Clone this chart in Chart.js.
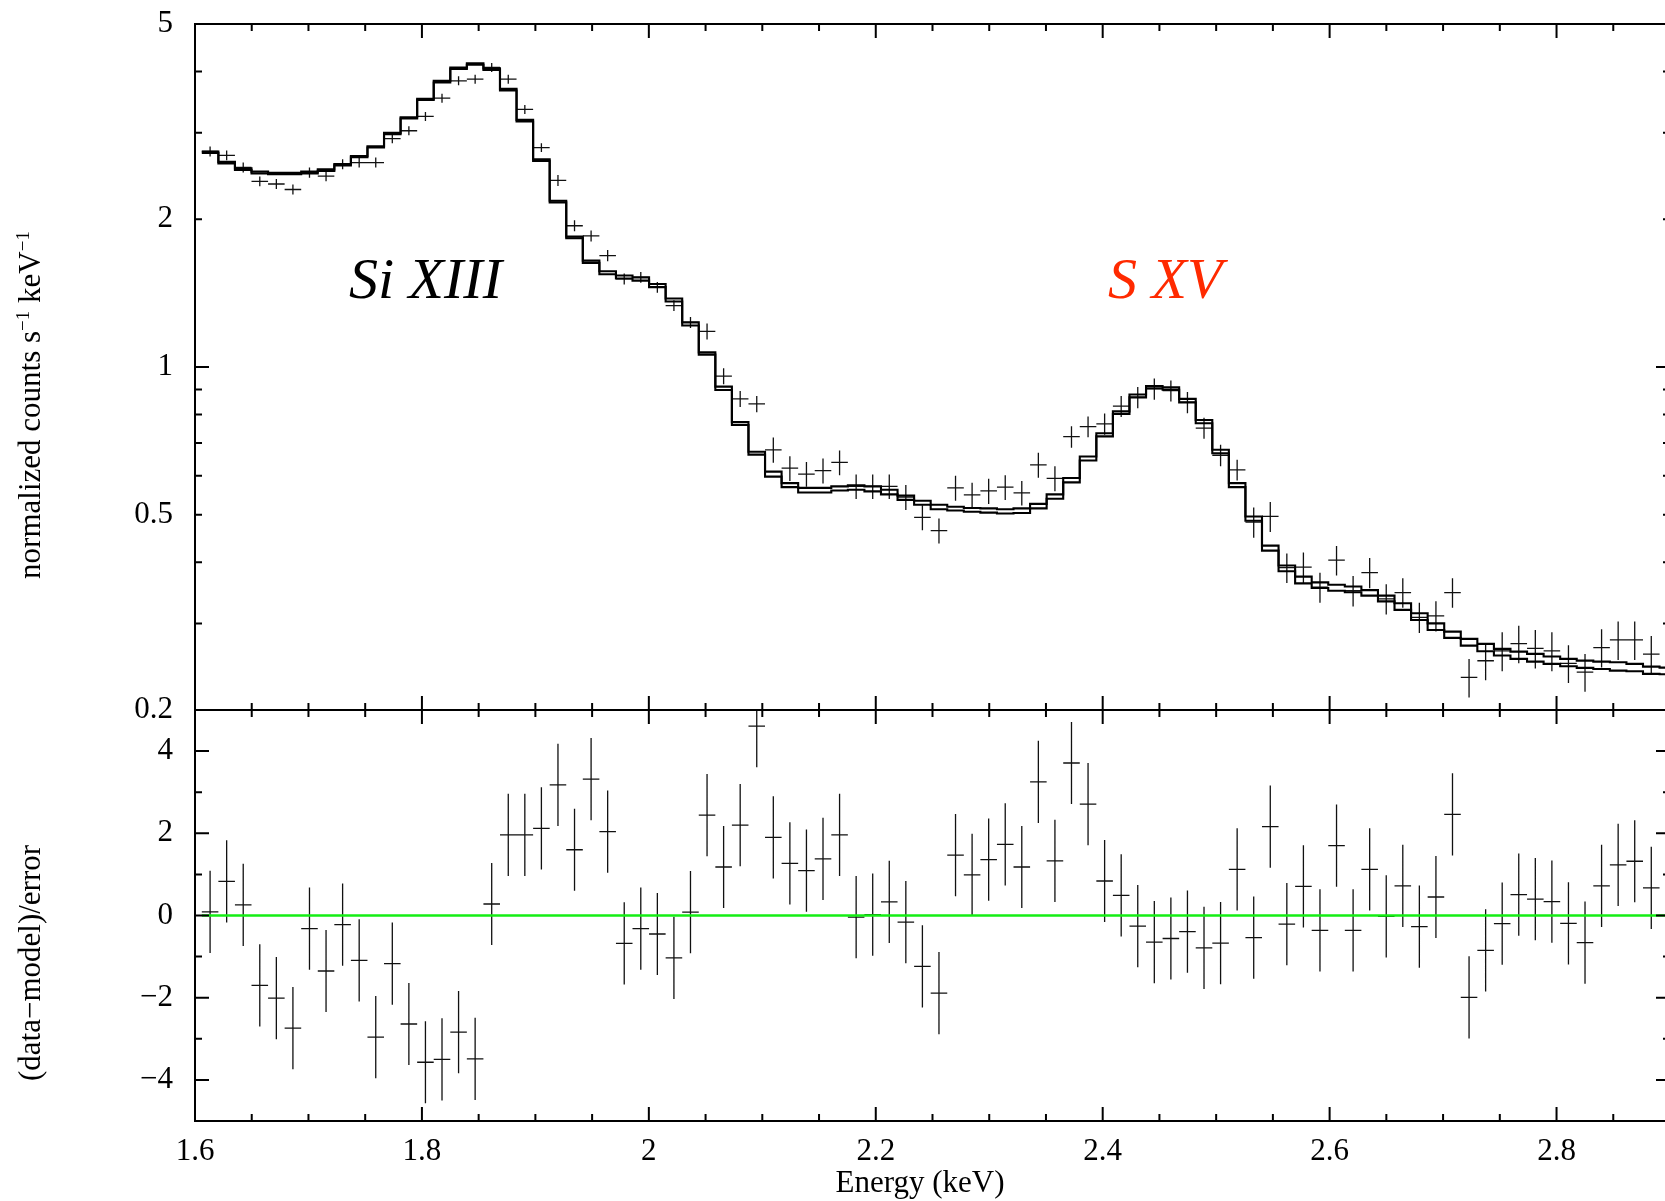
<!DOCTYPE html>
<html>
<head>
<meta charset="utf-8">
<script src="https://cdn.jsdelivr.net/npm/chart.js@4.4.1/dist/chart.umd.min.js"></script>
<style>
  html, body { margin: 0; padding: 0; background: #fff; overflow: hidden; }
  #wrap { position: relative; width: 1665px; height: 1201px; overflow: hidden; background: #fff; }
  canvas { position: absolute; left: 0; }
  #spec { top: 0; }
  #resid { top: 700px; }
</style>
</head>
<body>
<div id="wrap">
  <canvas id="spec" width="1680" height="720"></canvas>
  <canvas id="resid" width="1680" height="501"></canvas>
</div>
<script>
// ACIS channel centres (keV), one 14.6 eV channel per bin
const energies = [
  1.6133, 1.6279, 1.6425, 1.6571, 1.6717, 1.6863, 1.7009, 1.7155, 1.7301, 1.7447,
  1.7593, 1.7739, 1.7885, 1.8031, 1.8177, 1.8323, 1.8469, 1.8615, 1.8761, 1.8907,
  1.9053, 1.9199, 1.9345, 1.9491, 1.9637, 1.9783, 1.9929, 2.0075, 2.0221, 2.0367,
  2.0513, 2.0659, 2.0805, 2.0951, 2.1097, 2.1243, 2.1389, 2.1535, 2.1681, 2.1827,
  2.1973, 2.2119, 2.2265, 2.2411, 2.2557, 2.2703, 2.2849, 2.2995, 2.3141, 2.3287,
  2.3433, 2.3579, 2.3725, 2.3871, 2.4017, 2.4163, 2.4309, 2.4455, 2.4601, 2.4747,
  2.4893, 2.5039, 2.5185, 2.5331, 2.5477, 2.5623, 2.5769, 2.5915, 2.6061, 2.6207,
  2.6353, 2.6499, 2.6645, 2.6791, 2.6937, 2.7083, 2.7229, 2.7375, 2.7521, 2.7667,
  2.7813, 2.7959, 2.8105, 2.8251, 2.8397, 2.8543, 2.8689, 2.8835, 2.8981
];
const halfBin = 0.0073;

// normalized counts s^-1 keV^-1
const counts = [
  2.75, 2.70, 2.55, 2.39, 2.36, 2.30, 2.49, 2.45, 2.59, 2.61,
  2.61, 2.92, 3.03, 3.24, 3.53, 3.83, 3.86, 4.08, 3.86, 3.35,
  2.80, 2.40, 1.94, 1.85, 1.687, 1.512, 1.523, 1.453, 1.334, 1.233,
  1.182, 0.958, 0.861, 0.841, 0.678, 0.622, 0.605, 0.615, 0.639, 0.571,
  0.571, 0.571, 0.543, 0.494, 0.464, 0.567, 0.549, 0.559, 0.569, 0.554,
  0.632, 0.593, 0.721, 0.756, 0.766, 0.832, 0.867, 0.903, 0.895, 0.847,
  0.751, 0.661, 0.617, 0.483, 0.496, 0.390, 0.391, 0.356, 0.404, 0.350,
  0.381, 0.337, 0.347, 0.309, 0.311, 0.347, 0.233, 0.252, 0.264, 0.273,
  0.267, 0.264, 0.249, 0.239, 0.268, 0.278, 0.278, 0.260
];
const countErr = [
  0.065, 0.063, 0.060, 0.056, 0.055, 0.054, 0.059, 0.058, 0.061, 0.061,
  0.061, 0.062, 0.064, 0.068, 0.074, 0.081, 0.081, 0.086, 0.081, 0.071,
  0.059, 0.062, 0.050, 0.048, 0.044, 0.039, 0.039, 0.037, 0.034, 0.032,
  0.044, 0.036, 0.032, 0.032, 0.040, 0.036, 0.035, 0.036, 0.037, 0.033,
  0.033, 0.033, 0.032, 0.029, 0.027, 0.033, 0.032, 0.033, 0.033, 0.032,
  0.037, 0.035, 0.036, 0.037, 0.038, 0.041, 0.043, 0.045, 0.044, 0.042,
  0.037, 0.033, 0.030, 0.034, 0.035, 0.027, 0.028, 0.025, 0.028, 0.025,
  0.027, 0.024, 0.024, 0.022, 0.022, 0.024, 0.021, 0.022, 0.024, 0.024,
  0.024, 0.024, 0.022, 0.021, 0.024, 0.025, 0.025, 0.023
];

// folded model, two fits
const modelHi = [
  2.748, 2.618, 2.540, 2.501, 2.486, 2.486, 2.501, 2.528, 2.593, 2.692,
  2.817, 3.000, 3.228, 3.520, 3.828, 4.074, 4.158, 4.061, 3.687, 3.189,
  2.650, 2.181, 1.844, 1.647, 1.567, 1.536, 1.523, 1.476, 1.379, 1.233,
  1.071, 0.912, 0.772, 0.672, 0.612, 0.580, 0.567, 0.567, 0.571, 0.574,
  0.571, 0.562, 0.547, 0.534, 0.524, 0.519, 0.516, 0.515, 0.513, 0.515,
  0.526, 0.550, 0.594, 0.657, 0.733, 0.812, 0.879, 0.915, 0.909, 0.861,
  0.780, 0.678, 0.580, 0.496, 0.4325, 0.394, 0.374, 0.364, 0.360, 0.357,
  0.351, 0.342, 0.330, 0.315, 0.3003, 0.2889, 0.2792, 0.2727, 0.2664, 0.2630,
  0.2602, 0.2570, 0.2542, 0.2522, 0.2510, 0.2502, 0.2483, 0.2452, 0.2440
];
const modelLo = [
  2.73, 2.60, 2.52, 2.48, 2.47, 2.47, 2.48, 2.51, 2.575, 2.675,
  2.80, 2.98, 3.21, 3.50, 3.80, 4.05, 4.13, 4.03, 3.66, 3.165,
  2.63, 2.165, 1.83, 1.63, 1.545, 1.515, 1.50, 1.455, 1.36, 1.215,
  1.060, 0.898, 0.762, 0.663, 0.598, 0.569, 0.555, 0.555, 0.560, 0.562,
  0.558, 0.550, 0.536, 0.524, 0.513, 0.510, 0.507, 0.505, 0.503, 0.504,
  0.515, 0.539, 0.582, 0.645, 0.722, 0.802, 0.867, 0.905, 0.899, 0.847,
  0.768, 0.667, 0.569, 0.486, 0.4224, 0.3835, 0.3623, 0.3546, 0.3501, 0.3474,
  0.3420, 0.3330, 0.3199, 0.3051, 0.2912, 0.2805, 0.2705, 0.2634, 0.2582, 0.2542,
  0.2510, 0.2483, 0.2455, 0.2437, 0.2425, 0.2406, 0.2398, 0.2369, 0.2365
];

// (data - model) / error
const residuals = [
  0.09, 0.83, 0.26, -1.70, -2.01, -2.74, -0.32, -1.35, -0.22, -1.09,
  -2.96, -1.17, -2.64, -3.57, -3.50, -2.84, -3.49, 0.28, 1.96, 1.96,
  2.12, 3.18, 1.60, 3.32, 2.04, -0.68, -0.32, -0.45, -1.03, 0.08,
  2.44, 1.18, 2.20, 4.61, 1.90, 1.27, 1.09, 1.38, 1.96, -0.04,
  0.02, 0.33, -0.16, -1.24, -1.89, 1.47, 0.99, 1.36, 1.73, 1.18,
  3.25, 1.33, 3.71, 2.71, 0.84, 0.49, -0.26, -0.65, -0.56, -0.39,
  -0.79, -0.67, 1.12, -0.54, 2.16, -0.21, 0.71, -0.36, 1.70, -0.36,
  1.12, -0.02, 0.72, -0.27, 0.45, 2.46, -1.99, -0.85, -0.20, 0.51,
  0.40, 0.34, -0.19, -0.66, 0.72, 1.23, 1.32, 0.67
];
const residErr = 1;

// axis ticks
const xMajorTicks = [1.6, 1.8, 2.0, 2.2, 2.4, 2.6, 2.8];
const xMinorTicks = [1.65, 1.7, 1.75, 1.85, 1.9, 1.95, 2.05, 2.1, 2.15, 2.25, 2.3, 2.35,
                     2.45, 2.5, 2.55, 2.65, 2.7, 2.75, 2.85];
const xTickLabels = ['1.6', '1.8', '2', '2.2', '2.4', '2.6', '2.8'];
const specMajorTicks = [1];
const specMinorTicks = [0.2, 0.3, 0.4, 0.5, 0.6, 0.7, 0.8, 0.9, 2, 3, 4];
const specTickValues = [0.2, 0.5, 1, 2, 5];
const specTickLabels = ['0.2', '0.5', '1', '2', '5'];
const residMajorTicks = [-4, -2, 0, 2, 4];
const residMinorTicks = [-3, -1, 1, 3];
const residTickLabels = ['\u22124', '\u22122', '0', '2', '4'];

const SERIF = '"Liberation Serif", "Times New Roman", serif';
const TICK_MAJOR = 14, TICK_MINOR = 7;

// ---- dataset builders ----
function verticalBars(xs, ys, errs) {
  const pts = [];
  ys.forEach((y, i) => {
    const e = Array.isArray(errs) ? errs[i] : errs;
    pts.push({x: xs[i], y: y - e}, {x: xs[i], y: y + e}, {x: xs[i], y: null});
  });
  return pts;
}
function horizontalBars(xs, ys) {
  const pts = [];
  ys.forEach((y, i) => {
    pts.push({x: xs[i] - halfBin, y: y}, {x: xs[i] + halfBin, y: y}, {x: xs[i] + halfBin, y: null});
  });
  return pts;
}
function histogram(xs, ys) {
  const pts = [];
  ys.forEach((y, i) => {
    pts.push({x: xs[i] - halfBin, y: y}, {x: xs[i] + halfBin, y: y});
  });
  return pts;
}
function lineSet(data, color, width) {
  return {
    data, borderColor: color, borderWidth: width, pointRadius: 0,
    tension: 0, fill: false, spanGaps: false, clip: 0
  };
}

// ---- drawing helpers for frame and ticks ----
function drawXTicks(ctx, xScale, area, values, len) {
  values.forEach(v => {
    const px = xScale.getPixelForValue(v);
    ctx.beginPath();
    ctx.moveTo(px, area.top); ctx.lineTo(px, area.top + len);
    ctx.moveTo(px, area.bottom); ctx.lineTo(px, area.bottom - len);
    ctx.stroke();
  });
}
function drawYTicks(ctx, yScale, area, values, len) {
  values.forEach(v => {
    const py = yScale.getPixelForValue(v);
    ctx.beginPath();
    ctx.moveTo(area.left, py); ctx.lineTo(area.left + len, py);
    ctx.moveTo(area.right, py); ctx.lineTo(area.right - len, py);
    ctx.stroke();
  });
}
function drawFrame(ctx, area) {
  ctx.strokeRect(area.left, area.top, area.right - area.left, area.bottom - area.top);
}
// rotated title with optional superscript pieces
function drawVerticalTitle(ctx, parts, x, cy, size) {
  ctx.save();
  ctx.translate(x, cy);
  ctx.rotate(-Math.PI / 2);
  ctx.fillStyle = '#000';
  ctx.textBaseline = 'alphabetic';
  ctx.textAlign = 'left';
  const supSize = Math.round(size * 0.62);
  let total = 0;
  parts.forEach(p => {
    ctx.font = (p.sup ? supSize : size) + 'px ' + SERIF;
    p.w = ctx.measureText(p.text).width;
    total += p.w;
  });
  let cx = -total / 2;
  parts.forEach(p => {
    ctx.font = (p.sup ? supSize : size) + 'px ' + SERIF;
    ctx.fillText(p.text, cx, p.sup ? -size * 0.36 : 0);
    cx += p.w;
  });
  ctx.restore();
}

const specAxes = {
  id: 'specAxes',
  afterDraw(chart) {
    const {ctx, chartArea: a, scales} = chart;
    ctx.save();
    ctx.strokeStyle = '#000';
    ctx.lineWidth = 2;
    drawFrame(ctx, a);
    drawXTicks(ctx, scales.x, a, xMajorTicks, TICK_MAJOR);
    drawXTicks(ctx, scales.x, a, xMinorTicks, TICK_MINOR);
    drawYTicks(ctx, scales.y, a, specMajorTicks, TICK_MAJOR);
    drawYTicks(ctx, scales.y, a, specMinorTicks, TICK_MINOR);

    ctx.fillStyle = '#000';
    ctx.font = '31px ' + SERIF;
    ctx.textAlign = 'right';
    ctx.textBaseline = 'middle';
    specTickValues.forEach((v, i) => {
      ctx.fillText(specTickLabels[i], a.left - 22, scales.y.getPixelForValue(v));
    });

    drawVerticalTitle(ctx, [
      {text: 'normalized counts s'}, {text: '\u22121', sup: true},
      {text: ' keV'}, {text: '\u22121', sup: true}
    ], 40, 405, 31);

    // line identifications
    ctx.textAlign = 'left';
    ctx.textBaseline = 'alphabetic';
    ctx.font = 'italic 58px ' + SERIF;
    ctx.fillStyle = '#000';
    ctx.fillText('Si XIII', 349, 298);
    ctx.fillStyle = '#ff2a00';
    ctx.fillText('S XV', 1108, 298);
    ctx.restore();
  }
};

const residAxes = {
  id: 'residAxes',
  afterDraw(chart) {
    const {ctx, chartArea: a, scales} = chart;
    ctx.save();
    ctx.strokeStyle = '#000';
    ctx.lineWidth = 2;
    drawFrame(ctx, a);
    drawXTicks(ctx, scales.x, a, xMajorTicks, TICK_MAJOR);
    drawXTicks(ctx, scales.x, a, xMinorTicks, TICK_MINOR);
    drawYTicks(ctx, scales.y, a, residMajorTicks, TICK_MAJOR);
    drawYTicks(ctx, scales.y, a, residMinorTicks, TICK_MINOR);

    ctx.fillStyle = '#000';
    ctx.font = '31px ' + SERIF;
    ctx.textAlign = 'right';
    ctx.textBaseline = 'middle';
    residMajorTicks.forEach((v, i) => {
      ctx.fillText(residTickLabels[i], a.left - 22, scales.y.getPixelForValue(v));
    });

    ctx.textAlign = 'center';
    ctx.textBaseline = 'alphabetic';
    xMajorTicks.forEach((v, i) => {
      ctx.fillText(xTickLabels[i], scales.x.getPixelForValue(v), a.bottom + 39);
    });
    ctx.fillText('Energy (keV)', 920, a.bottom + 71);

    drawVerticalTitle(ctx, [{text: '(data\u2212model)/error'}], 40, 263, 31);
    ctx.restore();
  }
};

Chart.defaults.font.family = SERIF;

const xScaleOpts = {type: 'linear', min: 1.6, max: 2.9, display: false};

new Chart(document.getElementById('spec'), {
  type: 'line',
  data: {
    datasets: [
      lineSet(histogram(energies, modelHi), '#000', 2.1),
      lineSet(histogram(energies, modelLo), '#000', 2.1),
      lineSet(verticalBars(energies, counts, countErr), '#111', 1.3),
      lineSet(horizontalBars(energies, counts), '#111', 1.3)
    ]
  },
  options: {
    responsive: false,
    animation: false,
    devicePixelRatio: 1,
    layout: {padding: {left: 195, right: 10, top: 24, bottom: 10}},
    scales: {
      x: xScaleOpts,
      y: {type: 'logarithmic', min: 0.2, max: 5, display: false}
    },
    plugins: {legend: {display: false}, tooltip: {enabled: false}}
  },
  plugins: [specAxes]
});

const zeroLine = [
  {x: energies[0] - halfBin, y: 0},
  {x: energies[energies.length - 1] + halfBin, y: 0}
];

new Chart(document.getElementById('resid'), {
  type: 'line',
  data: {
    datasets: [
      lineSet(zeroLine, '#14ee14', 2.6),
      lineSet(verticalBars(energies, residuals, residErr), '#111', 1.3),
      lineSet(horizontalBars(energies, residuals), '#111', 1.3)
    ]
  },
  options: {
    responsive: false,
    animation: false,
    devicePixelRatio: 1,
    layout: {padding: {left: 195, right: 10, top: 10, bottom: 80}},
    scales: {
      x: xScaleOpts,
      y: {type: 'linear', min: -5, max: 5, display: false}
    },
    plugins: {legend: {display: false}, tooltip: {enabled: false}}
  },
  plugins: [residAxes]
});
</script>
</body>
</html>
